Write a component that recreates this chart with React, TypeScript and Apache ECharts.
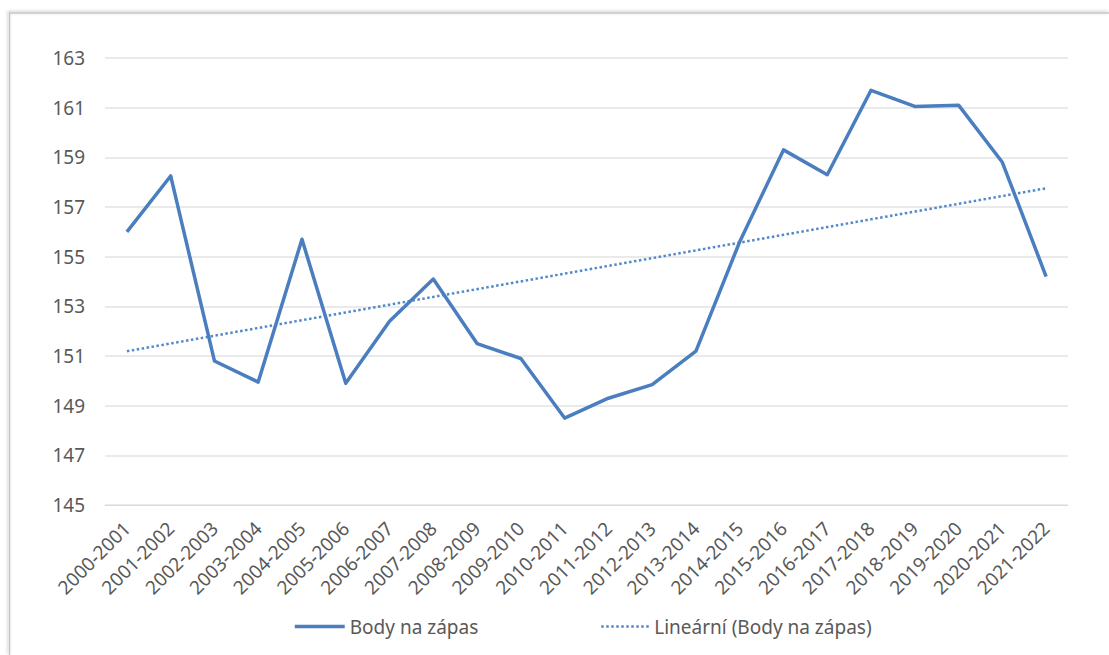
import React, { useEffect, useRef } from "react";
import * as echarts from "echarts";

// Seasons on the horizontal axis
const seasons = [
  "2000-2001", "2001-2002", "2002-2003", "2003-2004", "2004-2005", "2005-2006",
  "2006-2007", "2007-2008", "2008-2009", "2009-2010", "2010-2011", "2011-2012",
  "2012-2013", "2013-2014", "2014-2015", "2015-2016", "2016-2017", "2017-2018",
  "2018-2019", "2019-2020", "2020-2021", "2021-2022",
];

// Average points per game in each season
const pointsPerGame = [
  156.0, 158.25, 150.8, 149.95, 155.7, 149.9, 152.4, 154.1, 151.5, 150.9, 148.5,
  149.3, 149.85, 151.2, 155.6, 159.3, 158.3, 161.7, 161.05, 161.1, 158.8, 154.2,
];

// Value axis range
const yMin = 145;
const yMax = 163;
const yStep = 2;

const seriesName = "Body na zápas";
const trendName = "Lineární (Body na zápas)";

// Least-squares linear trend of the season values
function linearTrend(values: number[]): number[] {
  const n = values.length;
  const xs = values.map((_, i) => i);
  const mx = xs.reduce((a, b) => a + b, 0) / n;
  const my = values.reduce((a, b) => a + b, 0) / n;
  let sxy = 0;
  let sxx = 0;
  for (let i = 0; i < n; i++) {
    sxy += (xs[i] - mx) * (values[i] - my);
    sxx += (xs[i] - mx) * (xs[i] - mx);
  }
  const slope = sxy / sxx;
  const intercept = my - slope * mx;
  return xs.map((x) => +(intercept + slope * x).toFixed(3));
}

const FONT = "'Noto Sans', 'Open Sans', sans-serif";
const TEXT = "#595959";
const BLUE = "#4a7ebf";
const TREND_BLUE = "#5289cb";
const HIDDEN = { color: "rgba(0,0,0,0)", borderWidth: 0, opacity: 0 };

export default function App() {
  const ref = useRef<HTMLDivElement>(null);

  useEffect(() => {
    if (!ref.current) return;
    const chart = echarts.init(ref.current, undefined, { renderer: "svg" });
    const trend = linearTrend(pointsPerGame);

    chart.setOption({
      animation: false,
      backgroundColor: "#ffffff",
      textStyle: { fontFamily: FONT },
      grid: { left: 105, right: 41, top: 58, bottom: 150, containLabel: false },
      xAxis: {
        type: "category",
        data: seasons,
        boundaryGap: true,
        axisLine: { show: true, lineStyle: { color: "#dcdcdc", width: 1 } },
        axisTick: { show: false },
        axisLabel: {
          rotate: 45,
          interval: 0,
          margin: 20,
          color: TEXT,
          fontSize: 19,
          fontFamily: FONT,
        },
      },
      yAxis: {
        type: "value",
        min: yMin,
        max: yMax,
        interval: yStep,
        axisLine: { show: false },
        axisTick: { show: false },
        splitLine: { lineStyle: { color: "#e3e3e3", width: 1.5 } },
        axisLabel: { color: TEXT, fontSize: 19, fontFamily: FONT, margin: 20 },
      },
      legend: [
        {
          left: 288,
          top: 612,
          itemWidth: 50,
          itemHeight: 14,
          textStyle: { color: TEXT, fontSize: 19, fontFamily: FONT },
          data: [
            {
              name: seriesName,
              itemStyle: HIDDEN,
              lineStyle: { color: BLUE, width: 3.5, type: "solid" },
            },
          ],
        },
        {
          left: 595,
          top: 612,
          itemWidth: 48,
          itemHeight: 14,
          textStyle: { color: TEXT, fontSize: 19, fontFamily: FONT },
          data: [
            {
              name: trendName,
              itemStyle: HIDDEN,
              lineStyle: { color: TREND_BLUE, width: 2.5, type: [2.5, 2.5] },
            },
          ],
        },
      ],
      series: [
        {
          name: seriesName,
          type: "line",
          data: pointsPerGame,
          symbol: "none",
          lineStyle: { color: BLUE, width: 3.5, join: "round" },
          itemStyle: { color: BLUE },
          z: 3,
        },
        {
          name: trendName,
          type: "line",
          data: trend,
          symbol: "none",
          lineStyle: { color: TREND_BLUE, width: 2.5, type: [2.5, 2.5] },
          itemStyle: { color: TREND_BLUE },
          z: 2,
        },
      ],
      graphic: [
        {
          type: "polyline",
          silent: true,
          shape: { points: [[9.5, 655], [9.5, 13], [1109, 13]] },
          style: {
            fill: null,
            stroke: "#c6c6c6",
            lineWidth: 1.5,
            shadowBlur: 3,
            shadowColor: "rgba(0,0,0,0.25)",
            shadowOffsetX: -1,
            shadowOffsetY: -1,
          },
        },
      ],
    });

    return () => chart.dispose();
  }, []);

  return (
    <div
      ref={ref}
      style={{ position: "fixed", left: 0, top: 0, width: 1109, height: 655 }}
    />
  );
}
